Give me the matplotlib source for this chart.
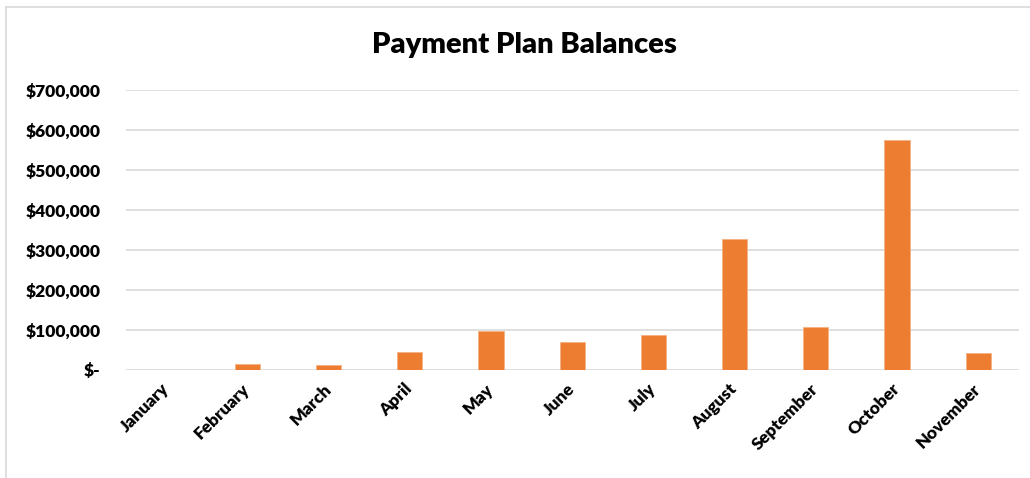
import matplotlib
matplotlib.use("Agg")
import matplotlib.pyplot as plt
from matplotlib.lines import Line2D
from matplotlib.ticker import FuncFormatter

plt.rcParams['font.family'] = ['Lato', 'DejaVu Sans']

months = ["January", "February", "March", "April", "May", "June",
          "July", "August", "September", "October", "November"]
balances = [0, 14000, 11700, 45000, 96700, 70000,
            87000, 327500, 106000, 574000, 42500]

W, H = 1030, 478
fig = plt.figure(figsize=(W / 100, H / 100), dpi=100)
fig.patch.set_facecolor("white")

# axes box in pixel terms: left 125.7, right 1018.7, top 90 (700k), bottom 369.7
left, right, top, bottom = 125.7, 1018.7, 90.0, 369.7
ax = fig.add_axes([left / W, 1 - bottom / H, (right - left) / W, (bottom - top) / H])

x = range(len(months))
ax.bar(x, balances, width=0.31, color="#ED7D31", edgecolor="#F4B183", linewidth=0.6, zorder=3)

ax.set_xlim(-0.5, len(months) - 0.5)
ax.set_ylim(0, 700000)
ax.set_yticks(range(0, 700001, 100000))


def money(v, pos):
    if v == 0:
        return "$-"
    return "${:,.0f}".format(v)


ax.yaxis.set_major_formatter(FuncFormatter(money))
ax.grid(axis="y", color="#D9D9D9", linewidth=1.2, zorder=0)
for s in ax.spines.values():
    s.set_visible(False)
ax.tick_params(axis="both", length=0)
ax.tick_params(axis="y", pad=18)

ax.set_xticks(list(x))
ax.set_xticklabels(months, rotation=45, ha="right", va="center",
                   rotation_mode="anchor", fontsize=12.5, fontweight="heavy")
for lbl in ax.get_yticklabels():
    lbl.set_fontsize(12.5)
    lbl.set_fontweight("heavy")
ax.tick_params(axis="x", pad=12)

fig.text(524 / W, 1 - 45 / H, "Payment Plan Balances", ha="center", va="center",
         fontsize=21, fontweight="heavy")

# outer chart frame (top and left edges)
fig.add_artist(Line2D([5.5 / W, 5.5 / W], [0, 1 - 6.5 / H], transform=fig.transFigure,
                      color="#D9D9D9", linewidth=1.2))
fig.add_artist(Line2D([5.5 / W, 1], [1 - 6.5 / H, 1 - 6.5 / H], transform=fig.transFigure,
                      color="#D9D9D9", linewidth=1.2))

fig.savefig("out.png", dpi=100)
